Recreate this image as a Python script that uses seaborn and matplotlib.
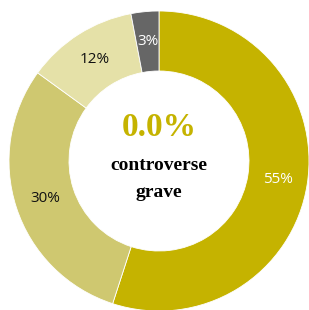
import matplotlib
matplotlib.use('Agg')
import matplotlib.pyplot as plt
import seaborn as sns

# Data
labels = ['55%', '30%', '12%', '3%']
shares = [55, 30, 12, 3]
colors = ['#c5b300', '#cfc870', '#e5e1a8', '#666666']
label_colors = ['white', '#111111', '#111111', 'white']
center_value = '0.0%'
center_lines = ['controverse', 'grave']

sns.set_theme(style='white')
plt.rcParams['font.family'] = ['Open Sans', 'DejaVu Sans']

fig = plt.figure(figsize=(3.09, 3.10), dpi=100)
ax = fig.add_axes([9 / 309, (310 - 161 - 150) / 310, 300 / 309, 300 / 310])

wedges, texts, autotexts = ax.pie(
    shares, colors=colors, startangle=90, counterclock=False,
    radius=1, autopct='%d%%', pctdistance=0.8,
    wedgeprops=dict(width=0.4, edgecolor='white', linewidth=0.6),
    textprops=dict(fontsize=11),
)
for t, c in zip(autotexts, label_colors):
    t.set_color(c)

serif = ['Liberation Serif', 'DejaVu Serif']
ax.text(0, 0.22, center_value, ha='center', va='center', fontsize=24,
        fontweight='bold', color='#c5b300', family=serif)
for y, line in zip([-0.03, -0.21], center_lines):
    ax.text(0, y, line, ha='center', va='center', fontsize=14,
            fontweight='bold', color='black', family=serif)

ax.set_xlim(-1, 1)
ax.set_ylim(-1, 1)
ax.set_aspect('equal')
ax.axis('off')

fig.savefig('out.png', dpi=100)
